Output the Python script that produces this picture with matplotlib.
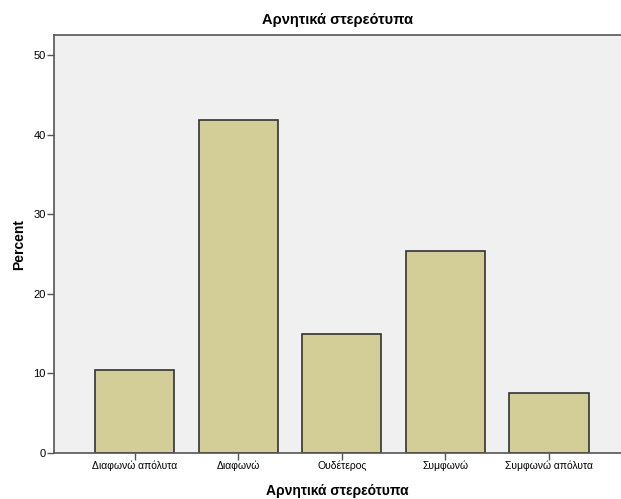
import matplotlib.pyplot as plt
import numpy as np

plt.rcParams['font.family'] = ['Liberation Sans', 'DejaVu Sans']

categories = ['Διαφωνώ απόλυτα', 'Διαφωνώ', 'Ουδέτερος', 'Συμφωνώ', 'Συμφωνώ απόλυτα']
percents = [10.4, 41.8, 14.9, 25.4, 7.5]
yticks = [0, 10, 20, 30, 40, 50]

fig = plt.figure(figsize=(6.21, 4.99), dpi=100)
ax = fig.add_axes([54 / 621, 46 / 499, 1 - 54 / 621, 418 / 499])
ax.set_facecolor('#F0F0F0')

x = np.arange(len(categories))
ax.bar(x, percents, width=0.763, color='#D3CE97', edgecolor='#333333', linewidth=1.2, zorder=2)

ax.set_xlim(-0.777, 4.695)
ax.set_ylim(0, 52.5)
ax.set_xticks(x)
ax.set_xticklabels(categories, fontsize=7.5)
ax.set_yticks(yticks)
ax.tick_params(axis='y', labelsize=8, length=5, width=1, color='#555555', pad=1)
ax.tick_params(axis='x', length=5, width=1, color='#555555', pad=0.5)

for side in ['left', 'bottom', 'top']:
    ax.spines[side].set_color('#555555')
    ax.spines[side].set_linewidth(1.2)
ax.spines['right'].set_visible(False)

ax.set_ylabel('Percent', fontsize=10, fontweight='bold', labelpad=5)
ax.set_xlabel('Αρνητικά στερεότυπα', fontsize=10, fontweight='bold', labelpad=9)
ax.set_title('Αρνητικά στερεότυπα', fontsize=10.5, fontweight='bold', pad=8)

fig.savefig('out.png', dpi=100)
